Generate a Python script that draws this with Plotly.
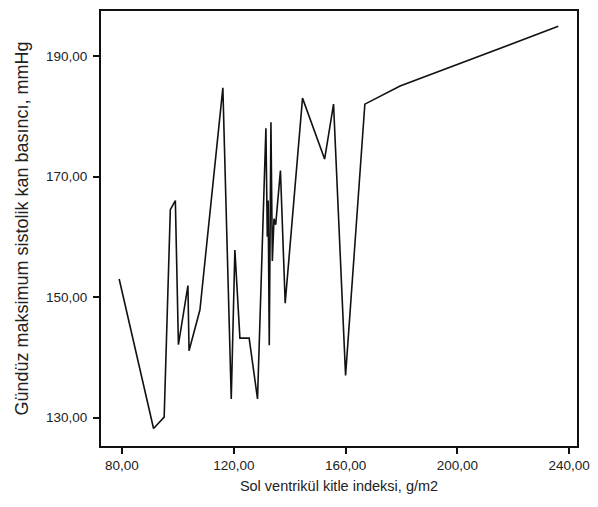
import plotly.graph_objects as go

lvmi = [79.0, 91.3, 95.1, 97.3, 99.1, 100.2, 103.6, 104.0, 107.9, 116.1, 119.1,
        120.4, 122.2, 125.5, 128.5, 131.5, 132.0, 132.3, 132.7, 133.3, 133.8,
        134.4, 135.0, 136.7, 138.4, 144.6, 152.5, 155.7, 160.0, 166.9, 179.5, 236.1]
sbp_max = [153.0, 128.2, 130.1, 164.5, 166.0, 142.1, 151.9, 141.1, 147.9, 184.7, 133.1,
           157.8, 143.2, 143.2, 133.1, 178.0, 160.0, 166.0, 142.0, 179.0, 156.0,
           163.0, 162.0, 171.0, 149.0, 183.0, 172.9, 182.0, 137.0, 182.0, 185.0, 194.9]

x_ticks = [80, 120, 160, 200, 240]
x_ticktext = ["80,00", "120,00", "160,00", "200,00", "240,00"]
y_ticks = [130, 150, 170, 190]
y_ticktext = ["130,00", "150,00", "170,00", "190,00"]

fig = go.Figure()
fig.add_trace(go.Scatter(x=lvmi, y=sbp_max, mode="lines",
                         line=dict(color="#111111", width=1.6), showlegend=False))

# the page body has an 8px default margin, so the figure is made 8px smaller
fig.update_layout(
    width=590, height=499,
    margin=dict(l=93, r=21, t=1, b=61),
    paper_bgcolor="white", plot_bgcolor="white",
    font=dict(family="Liberation Sans, Arial, sans-serif", color="#222222"),
)
fig.update_xaxes(
    range=[72.5, 242.8], tickvals=x_ticks, ticktext=x_ticktext,
    showgrid=False, zeroline=False, showline=True, linecolor="#111111", linewidth=2,
    mirror=True, ticks="outside", ticklen=6, tickwidth=2, tickcolor="#111111",
    tickfont=dict(size=13.5),
    title=dict(text="Sol ventrikül kitle indeksi, g/m2", font=dict(size=14.5), standoff=9),
)
fig.update_yaxes(
    range=[125.3, 197.45], tickvals=y_ticks, ticktext=y_ticktext,
    showgrid=False, zeroline=False, showline=True, linecolor="#111111", linewidth=2,
    mirror=True, ticks="outside", ticklen=6, tickwidth=2, tickcolor="#111111",
    tickfont=dict(size=13.5), ticklabelstandoff=3,
    title=dict(text="Gündüz maksimum sistolik kan basıncı, mmHg", font=dict(size=18), standoff=13),
)

fig.write_html("out.html")
